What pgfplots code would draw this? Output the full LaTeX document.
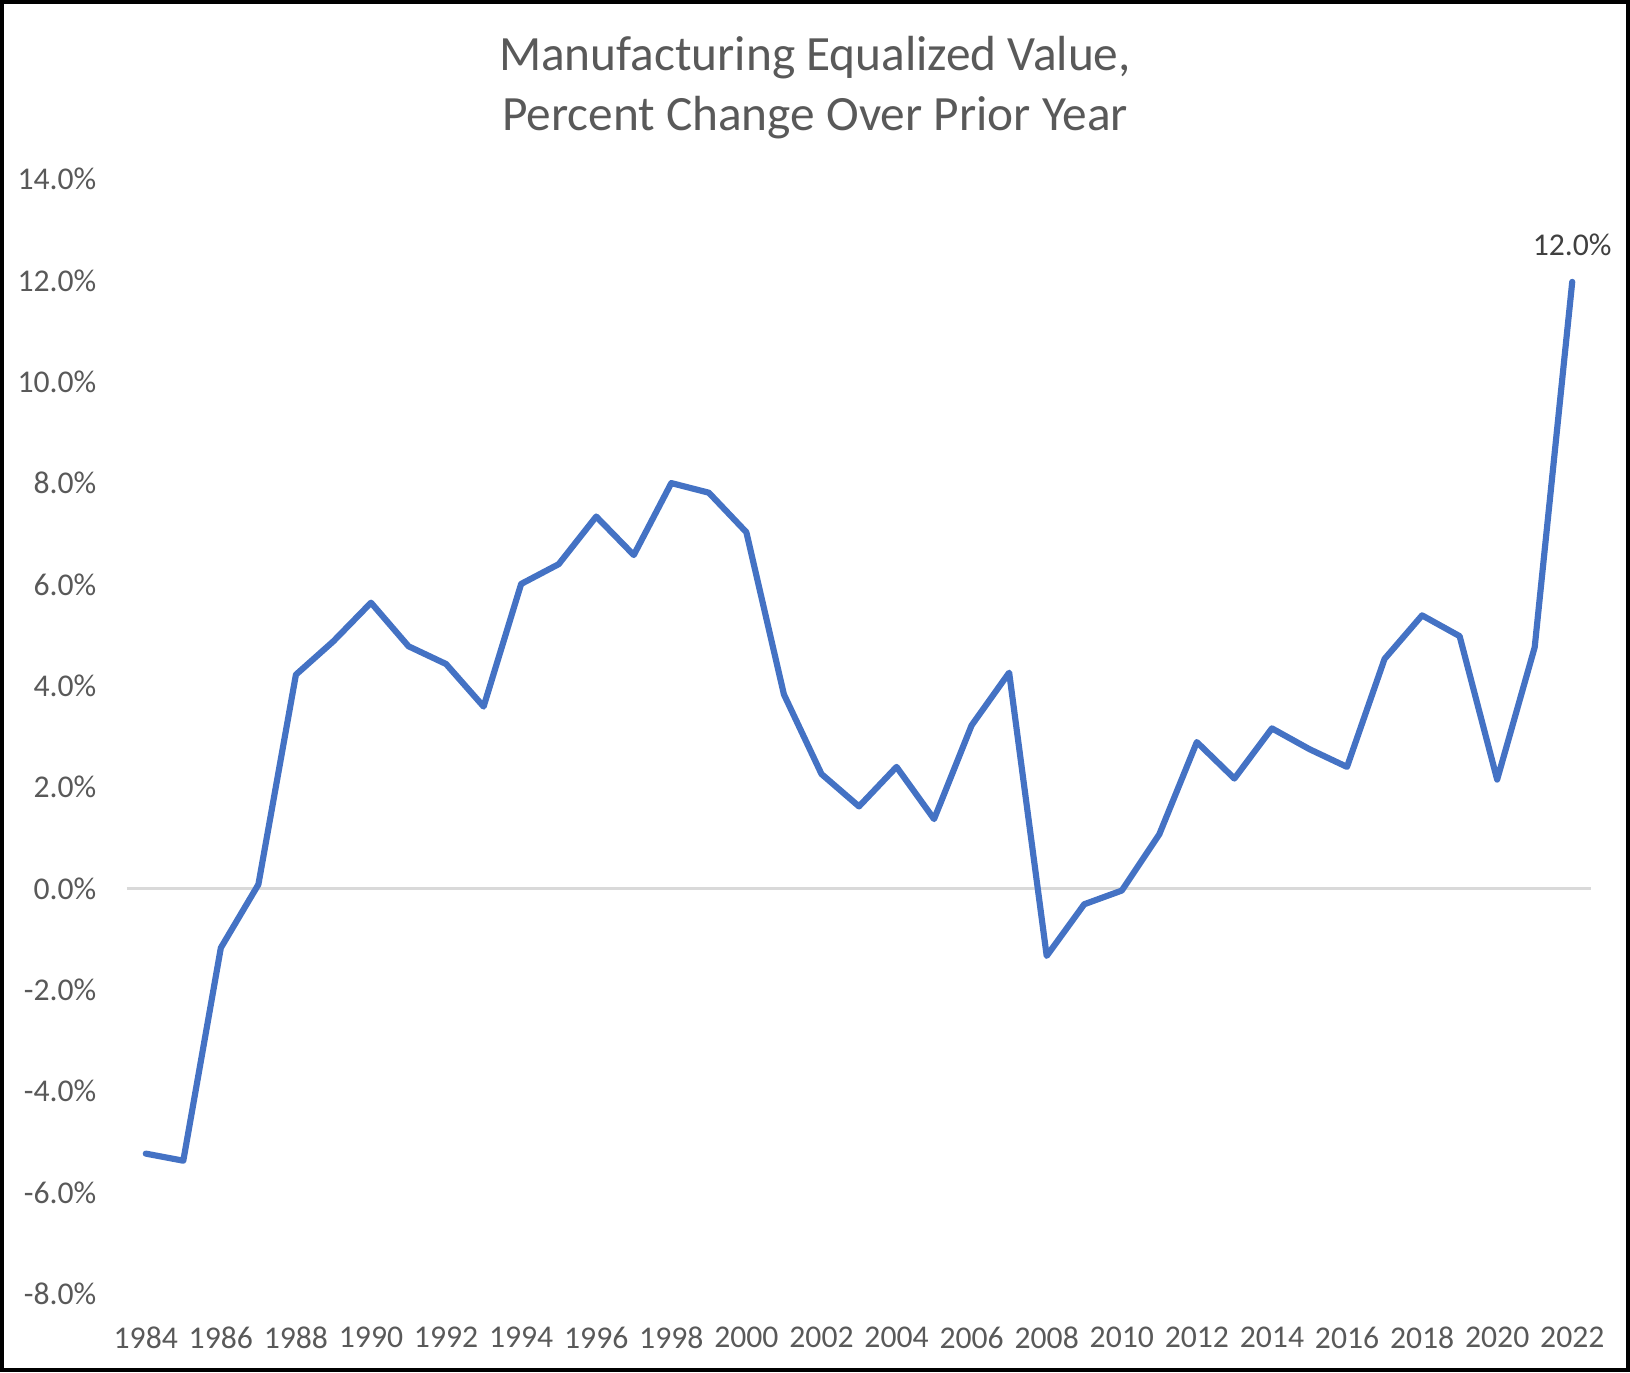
\documentclass[border=0pt]{standalone}
\usepackage{fontspec}
\setmainfont{Carlito}
\usepackage{pgfplots}
\pgfplotsset{compat=1.18}
\definecolor{linec}{HTML}{4472C4}
\definecolor{txt}{HTML}{595959}
\definecolor{lbl}{HTML}{404040}
\definecolor{zero}{HTML}{D9D9D9}
\begin{document}
\begin{tikzpicture}
\path[use as bounding box] (-38.1pt,-23.4pt) rectangle (450.9pt,388.2pt);
\begin{axis}[
  at={(0pt,0pt)}, anchor=south west,
  scale only axis, width=439.2pt, height=334.5pt,
  xmin=1983.5, xmax=2022.5, ymin=-8, ymax=14,
  axis line style={draw=none},
  xtick={1984,1986,...,2022}, ytick={-8,-6,...,14},
  major tick length=0pt,
  /pgf/number format/assume math mode=true,
  xticklabel={\pgfmathprintnumber[1000 sep={}]{\tick}},
  yticklabel={\pgfmathprintnumber[fixed,fixed zerofill,precision=1]{\tick}\%},
  xticklabel style={font=\fontsize{9.5}{11}\selectfont, text=txt, inner sep=0pt, anchor=north, yshift=-9.6pt},
  yticklabel style={font=\fontsize{9.5}{11}\selectfont, text=txt, inner sep=0pt, anchor=east, xshift=-9pt},
  clip=false,
]
\draw[zero, line width=0.7pt] (axis cs:1983.5,0) -- (axis cs:2022.5,0);
\addplot[linec, line width=1.85pt, line join=round, line cap=round, mark=none] coordinates {
(1984,-5.23) (1985,-5.37) (1986,-1.17) (1987,0.08) (1988,4.22) (1989,4.88)
(1990,5.64) (1991,4.78) (1992,4.43) (1993,3.59) (1994,6.01) (1995,6.40)
(1996,7.34) (1997,6.58) (1998,8.00) (1999,7.81) (2000,7.03) (2001,3.83)
(2002,2.26) (2003,1.62) (2004,2.40) (2005,1.37) (2006,3.22) (2007,4.26)
(2008,-1.33) (2009,-0.31) (2010,-0.04) (2011,1.07) (2012,2.89) (2013,2.17)
(2014,3.16) (2015,2.75) (2016,2.40) (2017,4.53) (2018,5.39) (2019,4.98)
(2020,2.15) (2021,4.76) (2022,11.97)
};
\node[anchor=south, inner sep=0pt, text=lbl, font=\fontsize{9.5}{11}\selectfont, yshift=7.5pt] at (axis cs:2022,11.97) {12.0\%};
\end{axis}
\node[text=txt, font=\fontsize{14.8}{18}\selectfont, align=center] at (206.4pt,361.8pt) {Manufacturing Equalized Value,\\Percent Change Over Prior Year};
\draw[black, line width=1.2pt] (-37.5pt,-22.8pt) rectangle (450.3pt,387.6pt);
\end{tikzpicture}
\end{document}
